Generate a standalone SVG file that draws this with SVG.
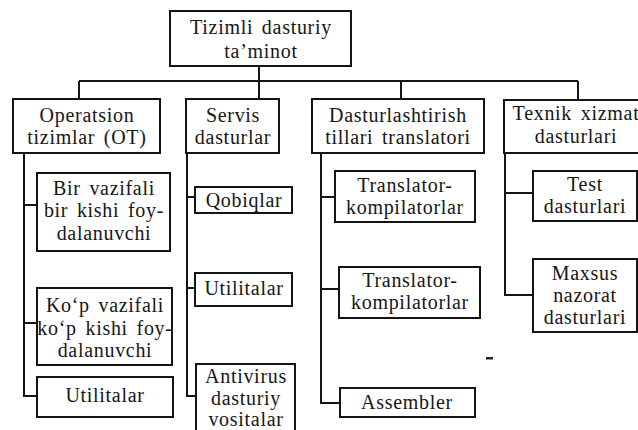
<svg xmlns="http://www.w3.org/2000/svg" width="638" height="430" viewBox="0 0 638 430">
<style>
.box{fill:#fff;stroke:#141414;stroke-width:2}
.con{fill:none;stroke:#141414;stroke-width:2}
text{font-family:"Liberation Serif","DejaVu Serif",serif;font-size:20px;fill:#161616;text-anchor:middle;letter-spacing:0.7px;word-spacing:3px}
</style>
<rect width="638" height="430" fill="#fff"/>
<g id="connectors">
<path class="con" d="M259 66V99M79 81H578M79 81V99M401 81V99M578 81V100"/>
<path class="con" d="M24 153V396H37M24 205H37M24 323H37"/>
<path class="con" d="M187 153V396H196M187 197H195M187 288H195"/>
<path class="con" d="M321 153V403H340M321 197H335M321 289H339"/>
<path class="con" d="M505 153V295H533M505 193H533"/>
</g>
<g id="root"><rect class="box" x="170" y="11" width="181" height="55"/><text x="261" y="34">Tizimli dasturiy</text><text x="261" y="58">ta’minot</text></g>
<g id="ot"><rect class="box" x="13" y="99" width="147" height="54"/><text x="87" y="122">Operatsion</text><text x="87" y="144">tizimlar (OT)</text></g>
<g id="servis"><rect class="box" x="186" y="99" width="93" height="54"/><text x="233" y="122">Servis</text><text x="233" y="144">dasturlar</text></g>
<g id="dast"><rect class="box" x="312" y="99" width="172" height="54"/><text x="398" y="122">Dasturlashtirish</text><text x="398" y="144">tillari translatori</text></g>
<g id="texnik"><rect class="box" x="504" y="100" width="150" height="53"/><text x="576" y="120">Texnik xizmat</text><text x="576" y="143">dasturlari</text></g>
<g id="bir"><rect class="box" x="37" y="173" width="133" height="78"/><text x="104" y="195">Bir vazifali</text><text x="104" y="217">bir kishi foy-</text><text x="104" y="240">dalanuvchi</text></g>
<g id="kop"><rect class="box" x="37" y="288" width="135" height="77"/><text x="105" y="312">Ko‘p vazifali</text><text x="105" y="335">ko‘p kishi foy-</text><text x="105" y="357">dalanuvchi</text></g>
<g id="util1"><rect class="box" x="37" y="377" width="136" height="40"/><text x="105" y="402">Utilitalar</text></g>
<g id="qobiq"><rect class="box" x="195" y="187" width="97" height="26"/><text x="244" y="207">Qobiqlar</text></g>
<g id="util2"><rect class="box" x="195" y="273" width="97" height="33"/><text x="244" y="295">Utilitalar</text></g>
<g id="antivirus"><rect class="box" x="196" y="364" width="99" height="80"/><text x="246" y="383">Antivirus</text><text x="246" y="405">dasturiy</text><text x="246" y="426">vositalar</text></g>
<g id="trans1"><rect class="box" x="335" y="171" width="140" height="51"/><text x="405" y="192">Translator-</text><text x="405" y="214">kompilatorlar</text></g>
<g id="trans2"><rect class="box" x="339" y="267" width="141" height="51"/><text x="410" y="287">Translator-</text><text x="410" y="309">kompilatorlar</text></g>
<g id="assembler"><rect class="box" x="340" y="388" width="135" height="29"/><text x="407" y="409">Assembler</text></g>
<g id="test"><rect class="box" x="533" y="171" width="104" height="50"/><text x="585" y="191">Test</text><text x="585" y="213">dasturlari</text></g>
<g id="maxsus"><rect class="box" x="533" y="259" width="104" height="73"/><text x="585" y="280">Maxsus</text><text x="585" y="302">nazorat</text><text x="585" y="324">dasturlari</text></g>
<rect x="486" y="357" width="7" height="2.5" fill="#222"/>
</svg>
